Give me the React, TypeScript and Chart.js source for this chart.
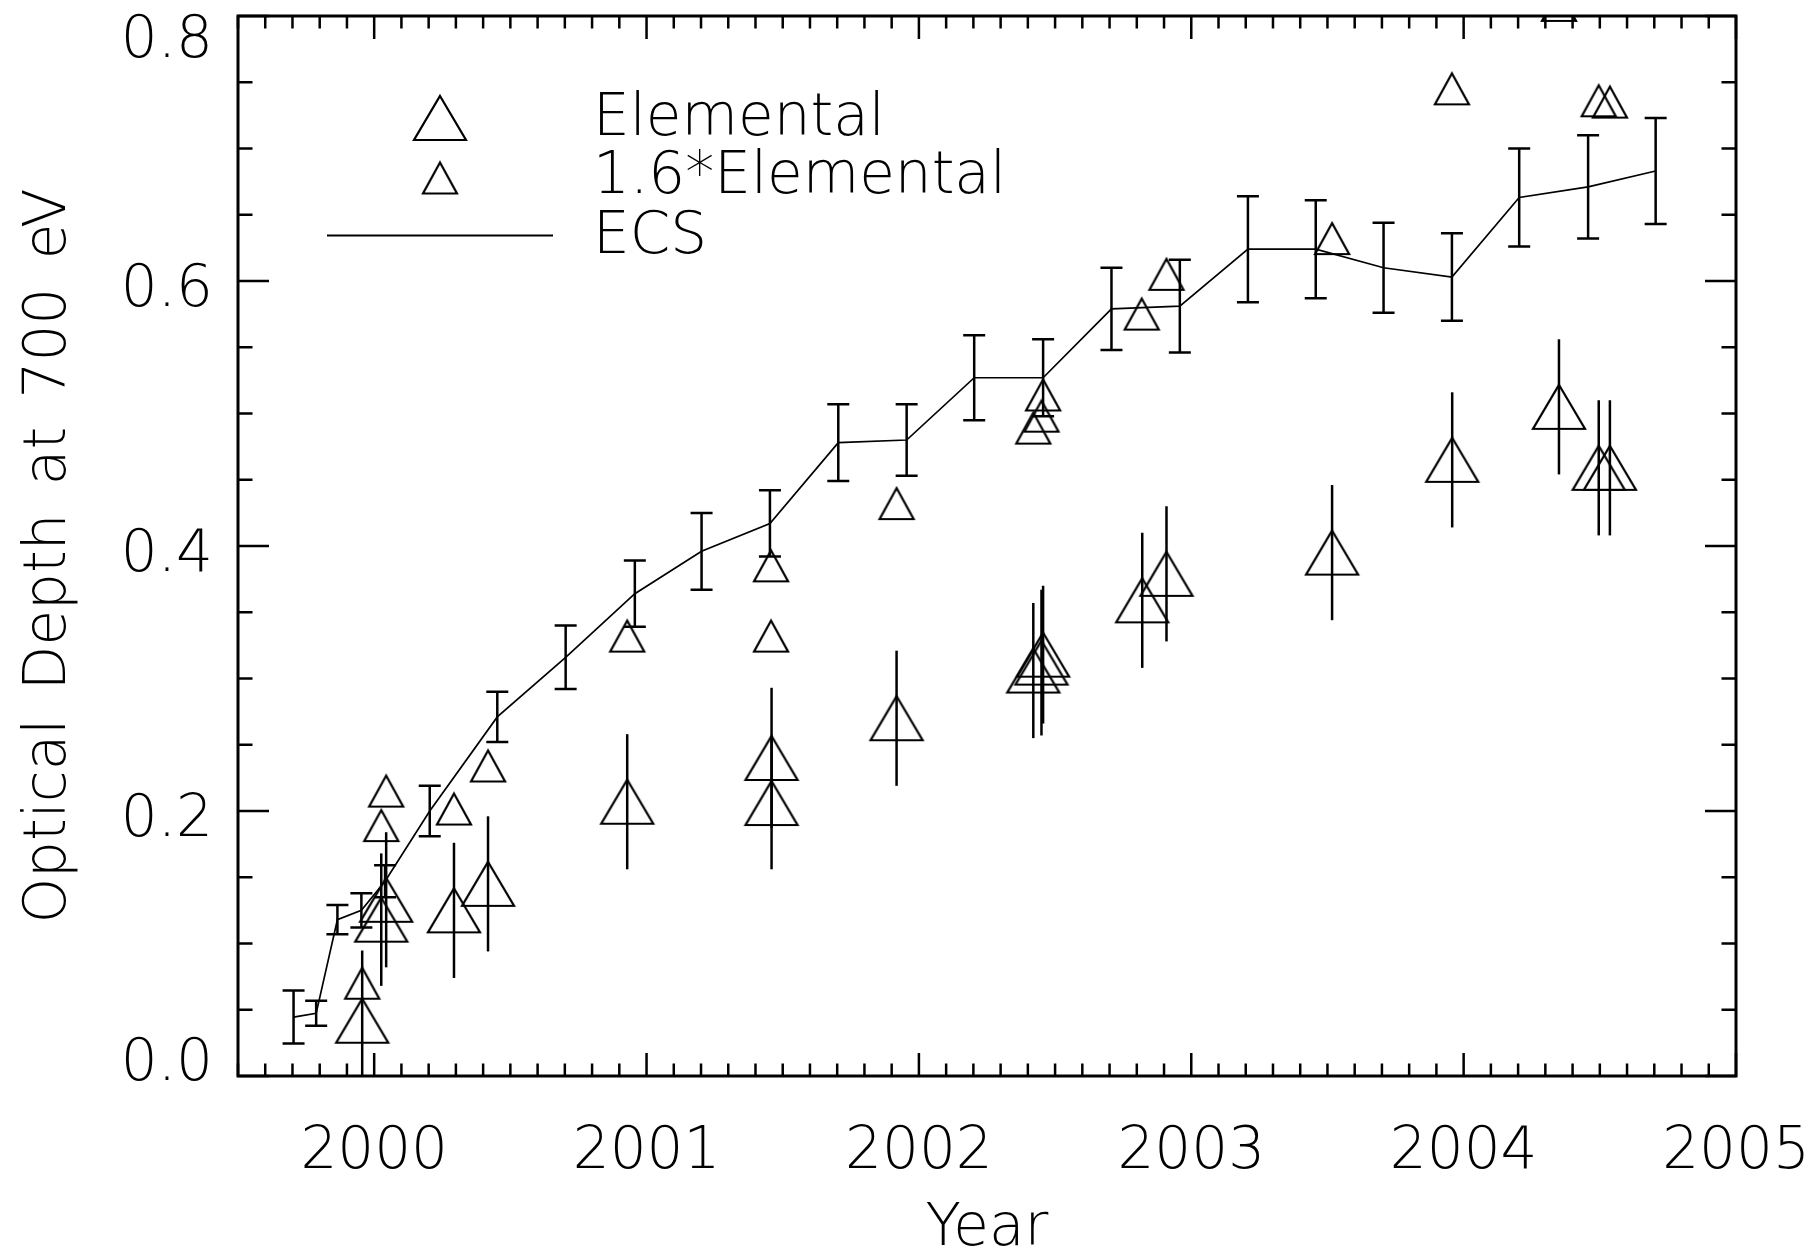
import { useEffect, useRef } from 'react';
import { Chart, registerables } from 'chart.js';

Chart.register(...registerables);

// ---------- data ----------
const ECS_YEAR = [1999.704, 1999.787, 1999.865, 1999.953, 2000.040, 2000.204, 2000.452, 2000.703, 2000.957, 2001.202, 2001.453, 2001.704, 2001.955, 2002.203, 2002.456, 2002.707, 2002.958, 2003.208, 2003.457, 2003.706, 2003.957, 2004.204, 2004.457, 2004.705];
const ECS_TAU = [0.0445, 0.0473, 0.118, 0.125, 0.147, 0.200, 0.271, 0.316, 0.364, 0.396, 0.417, 0.478, 0.480, 0.527, 0.527, 0.579, 0.581, 0.624, 0.624, 0.610, 0.603, 0.663, 0.671, 0.683];
const ECS_ERR = [0.020, 0.0094, 0.011, 0.013, 0.012, 0.019, 0.019, 0.024, 0.025, 0.029, 0.025, 0.029, 0.027, 0.032, 0.029, 0.031, 0.035, 0.040, 0.037, 0.034, 0.033, 0.037, 0.039, 0.040];

const EL_YEAR = [1999.956, 2000.026, 2000.044, 2000.293, 2000.418, 2000.929, 2001.459, 2001.459, 2001.918, 2002.420, 2002.450, 2002.456, 2002.820, 2002.909, 2003.517, 2003.958, 2004.350, 2004.496, 2004.537];
const EL_TAU = [0.0417, 0.118, 0.133, 0.125, 0.145, 0.207, 0.206, 0.240, 0.270, 0.306, 0.312, 0.318, 0.359, 0.379, 0.395, 0.465, 0.505, 0.459, 0.459];
const EL_ERR = [0.053, 0.050, 0.051, 0.051, 0.051, 0.051, 0.050, 0.053, 0.051, 0.051, 0.055, 0.052, 0.051, 0.051, 0.051, 0.051, 0.051, 0.051, 0.051];

const SC_YEAR = [1999.956, 2000.026, 2000.044, 2000.293, 2000.418, 2000.929, 2001.457, 2001.457, 2001.918, 2002.420, 2002.450, 2002.456, 2002.818, 2002.909, 2003.517, 2003.957, 2004.350, 2004.496, 2004.537];
const SC_TAU = [0.070, 0.189, 0.215, 0.2015, 0.234, 0.332, 0.332, 0.385, 0.432, 0.489, 0.498, 0.514, 0.575, 0.605, 0.632, 0.745, 0.808, 0.736, 0.735];

const X_TICKS = [2000, 2001, 2002, 2003, 2004, 2005];
const Y_TICKS = [0.0, 0.2, 0.4, 0.6, 0.8];
const X_MIN = 1999.5;
const X_MAX = 2005;
const Y_MIN = 0;
const Y_MAX = 0.8;
const X_MINOR = 0.1;
const Y_MINOR = 0.05;

const X_TITLE = 'Year';
const Y_TITLE = 'Optical Depth at 700 eV';
const LEGEND = ['Elemental', '1.6*Elemental', 'ECS'];

const FONT_FAMILY = '"DejaVu Sans", "Liberation Sans", sans-serif';
const FONT = `200 58px ${FONT_FAMILY}`;

function triangleCanvas(w: number, h: number, lw: number): HTMLCanvasElement {
  const c = document.createElement('canvas');
  const pad = Math.ceil(lw);
  c.width = w + pad * 2;
  c.height = h + pad * 2;
  const ctx = c.getContext('2d')!;
  ctx.strokeStyle = '#000';
  ctx.lineWidth = lw;
  ctx.lineJoin = 'miter';
  ctx.beginPath();
  ctx.moveTo(c.width / 2, pad);
  ctx.lineTo(pad + w, pad + h);
  ctx.lineTo(pad, pad + h);
  ctx.closePath();
  ctx.stroke();
  return c;
}

export default function App() {
  const ref = useRef<HTMLCanvasElement>(null);

  useEffect(() => {
    if (!ref.current) return;
    const bigTri = triangleCanvas(52, 44, 2.2);
    const smallTri = triangleCanvas(34, 31, 2.2);

    const errorBars = {
      id: 'errorBars',
      afterDatasetsDraw(chart: any) {
        const { ctx, chartArea: a } = chart;
        const xs = chart.scales.x;
        const ys = chart.scales.y;
        ctx.save();
        ctx.beginPath();
        ctx.rect(a.left, a.top, a.right - a.left, a.bottom - a.top);
        ctx.clip();
        ctx.strokeStyle = '#000';
        ctx.lineWidth = 2.5;
        ctx.lineCap = 'butt';
        // Elemental: plain vertical bars
        EL_YEAR.forEach((yr, i) => {
          const px = xs.getPixelForValue(yr);
          const y1 = ys.getPixelForValue(EL_TAU[i] - EL_ERR[i]);
          const y2 = ys.getPixelForValue(EL_TAU[i] + EL_ERR[i]);
          ctx.beginPath();
          ctx.moveTo(px, y1);
          ctx.lineTo(px, y2);
          ctx.stroke();
        });
        // ECS: bars with caps
        const cap = 11;
        ECS_YEAR.forEach((yr, i) => {
          const px = xs.getPixelForValue(yr);
          const y1 = ys.getPixelForValue(ECS_TAU[i] - ECS_ERR[i]);
          const y2 = ys.getPixelForValue(ECS_TAU[i] + ECS_ERR[i]);
          ctx.beginPath();
          ctx.moveTo(px, y1);
          ctx.lineTo(px, y2);
          ctx.moveTo(px - cap, y1);
          ctx.lineTo(px + cap, y1);
          ctx.moveTo(px - cap, y2);
          ctx.lineTo(px + cap, y2);
          ctx.stroke();
        });
        ctx.restore();
      },
    };

    const idlAxes = {
      id: 'idlAxes',
      afterDraw(chart: any) {
        const { ctx, chartArea: a } = chart;
        const xs = chart.scales.x;
        const ys = chart.scales.y;
        ctx.save();
        ctx.strokeStyle = '#000';
        ctx.fillStyle = '#000';
        // frame
        ctx.lineWidth = 3;
        ctx.strokeRect(a.left, a.top, a.right - a.left, a.bottom - a.top);
        // ticks
        ctx.lineWidth = 2.5;
        const nx = Math.round((X_MAX - X_MIN) / X_MINOR);
        for (let k = 0; k <= nx; k++) {
          const v = X_MIN + k * X_MINOR;
          const major = Math.abs(v - Math.round(v)) < 1e-6;
          const len = major ? 23 : 12.5;
          const px = xs.getPixelForValue(v);
          ctx.beginPath();
          ctx.moveTo(px, a.bottom);
          ctx.lineTo(px, a.bottom - len);
          ctx.moveTo(px, a.top);
          ctx.lineTo(px, a.top + len);
          ctx.stroke();
        }
        const ny = Math.round((Y_MAX - Y_MIN) / Y_MINOR);
        for (let k = 0; k <= ny; k++) {
          const v = Y_MIN + k * Y_MINOR;
          const major = k % 4 === 0;
          const len = major ? 31 : 14.5;
          const py = ys.getPixelForValue(v);
          ctx.beginPath();
          ctx.moveTo(a.left, py);
          ctx.lineTo(a.left + len, py);
          ctx.moveTo(a.right, py);
          ctx.lineTo(a.right - len, py);
          ctx.stroke();
        }
        // tick labels
        ctx.font = FONT;
        ctx.textBaseline = 'alphabetic';
        ctx.textAlign = 'center';
        X_TICKS.forEach((v) => {
          ctx.fillText(String(v), xs.getPixelForValue(v), a.bottom + 92);
        });
        ctx.textAlign = 'right';
        Y_TICKS.forEach((v) => {
          const py = ys.getPixelForValue(v);
          const base = Math.min(Math.max(py + 25, a.top + 41), a.bottom + 4);
          ctx.fillText(v.toFixed(1), a.left - 25, base);
        });
        // axis titles
        ctx.textAlign = 'center';
        ctx.fillText(X_TITLE, (a.left + a.right) / 2, 1245);
        ctx.save();
        ctx.translate(65, 556);
        ctx.rotate(-Math.PI / 2);
        try { (ctx as any).wordSpacing = '10px'; } catch (e) { /* ignore */ }
        ctx.fillText(Y_TITLE, 0, 0);
        ctx.restore();
        // legend
        ctx.textAlign = 'left';
        ctx.drawImage(bigTri, 440 - bigTri.width / 2, 118 - bigTri.height / 2);
        ctx.drawImage(smallTri, 440 - smallTri.width / 2, 178 - smallTri.height / 2);
        ctx.lineWidth = 1.8;
        ctx.beginPath();
        ctx.moveTo(327, 235.5);
        ctx.lineTo(553, 235.5);
        ctx.stroke();
        ctx.fillText(LEGEND[0], 593, 135);
        ctx.fillText(LEGEND[1], 593, 193);
        ctx.fillText(LEGEND[2], 593, 253);
        ctx.restore();
      },
    };

    const chart = new Chart(ref.current, {
      type: 'scatter',
      data: {
        datasets: [
          {
            label: LEGEND[2],
            data: ECS_YEAR.map((x, i) => ({ x, y: ECS_TAU[i] })),
            showLine: true,
            borderColor: '#000',
            backgroundColor: '#000',
            borderWidth: 1.7,
            pointRadius: 0,
            tension: 0,
            clip: 0,
          } as any,
          {
            label: LEGEND[0],
            data: EL_YEAR.map((x, i) => ({ x, y: EL_TAU[i] })),
            pointStyle: bigTri,
            pointRadius: 26,
            borderWidth: 0,
            showLine: false,
            clip: 0,
          } as any,
          {
            label: LEGEND[1],
            data: SC_YEAR.map((x, i) => ({ x, y: SC_TAU[i] })),
            pointStyle: smallTri,
            pointRadius: 18,
            borderWidth: 0,
            showLine: false,
            clip: 0,
          } as any,
        ],
      },
      options: {
        responsive: false,
        animation: false,
        events: [],
        layout: { autoPadding: false, padding: { left: 238, top: 16, right: 82, bottom: 174 } },
        scales: {
          x: { type: 'linear', min: X_MIN, max: X_MAX, display: false },
          y: { type: 'linear', min: Y_MIN, max: Y_MAX, display: false },
        },
        plugins: { legend: { display: false }, tooltip: { enabled: false } },
      } as any,
      plugins: [errorBars, idlAxes],
    });
    return () => chart.destroy();
  }, []);

  return (
    <div style={{ position: 'absolute', left: 0, top: 0, width: 1818, height: 1250, background: '#fff' }}>
      <canvas ref={ref} width={1818} height={1250} style={{ width: 1818, height: 1250, display: 'block' }} />
    </div>
  );
}
